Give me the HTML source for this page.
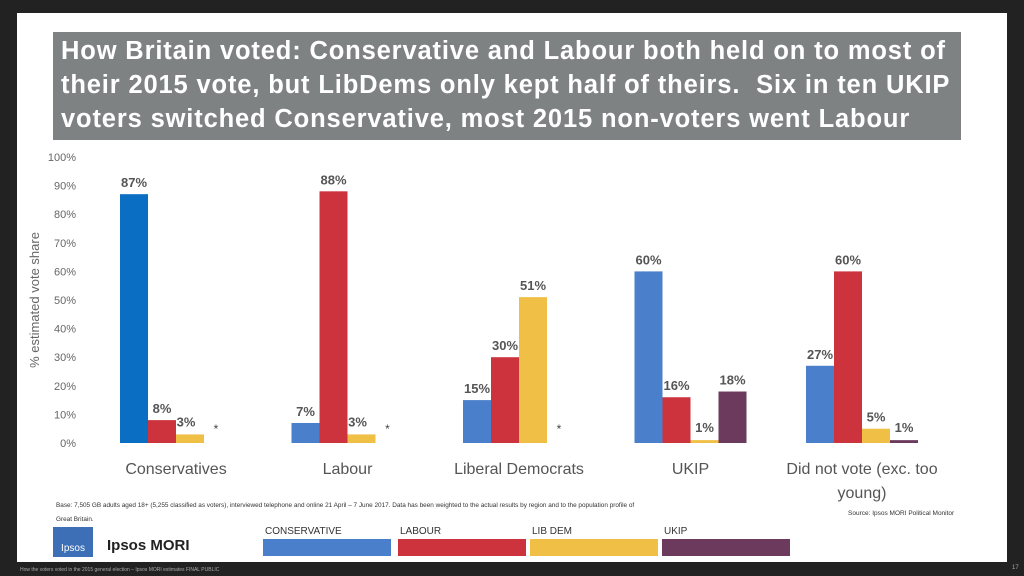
<!DOCTYPE html>
<html><head><meta charset="utf-8"><style>
body{margin:0;width:1024px;height:576px;background:#222;overflow:hidden;font-family:"Liberation Sans",sans-serif;position:relative}
.slide{position:absolute;left:17px;top:13px;width:990px;height:549px;background:#fff}
.title{position:absolute;left:53px;top:32px;width:908px;height:108px;background:#7f8283;color:#fff;font-weight:bold;font-size:25.5px;line-height:34px;padding:2px 0 0 8px;box-sizing:border-box;letter-spacing:0.85px;white-space:nowrap}
.abs{position:absolute}
</style></head><body>
<div class="slide"></div>
<div class="title">How Britain voted: Conservative and Labour both held on to most of<br>their 2015 vote, but LibDems only kept half of theirs.&nbsp; Six in ten UKIP<br>voters switched Conservative, most 2015 non-voters went Labour</div>
<svg class="abs" style="left:0;top:0" width="1024" height="576" id="chart"></svg>
<div class="abs" style="left:56px;top:499px;font-size:6.4px;color:#333;line-height:14px;width:595px">Base: 7,505 GB adults aged 18+ (5,255 classified as voters), interviewed telephone and online 21 April – 7 June 2017. Data has been weighted to the actual results by region and to the population profile of Great Britain.</div>
<div class="abs" style="left:848px;top:510px;font-size:6.5px;color:#333">Source: Ipsos MORI Political Monitor</div>
<div class="abs" style="left:53px;top:527px;width:40px;height:30px;background:#3d6fb6;color:#fff;font-size:10px;text-align:center;line-height:44px">Ipsos</div>
<div class="abs" style="left:107px;top:537px;font-size:15px;font-weight:bold;color:#222">Ipsos MORI</div>
<div class="abs" style="left:20px;top:567px;font-size:5px;color:#aaa">How the voters voted in the 2015 general election – Ipsos MORI estimates FINAL PUBLIC</div>
<div class="abs" style="left:1012px;top:565px;font-size:6px;color:#aaa">17</div>
<script>
const categories=["Conservatives","Labour","Liberal Democrats","UKIP","Did not vote (exc. too young)"];
const seriesNames=["CONSERVATIVE","LABOUR","LIB DEM","UKIP"];
const conservative=[87,7,15,60,27];
const labour=[8,88,30,16,60];
const libdem=[3,3,51,1,5];
const ukip=[null,null,null,18,1];
const ticks=[0,10,20,30,40,50,60,70,80,90,100];
const colors=["#4a7fcb","#cc333d","#f0bf45","#6b3a5c"];
const series=[conservative,labour,libdem,ukip];
const NS="http://www.w3.org/2000/svg";
const svg=document.getElementById('chart');
const y0=443,y1=157;
const yS=v=>y0-(v/100)*(y0-y1);
const xC=i=>176+i*171.5;
const bw=28;
function mk(t,a,txt){const e=document.createElementNS(NS,t);for(const k in a)e.setAttribute(k,a[k]);if(txt!=null)e.textContent=txt;svg.appendChild(e);return e;}
ticks.forEach(t=>{const e=mk('text',{x:76,y:yS(t)+4,'text-anchor':'end','font-size':11,fill:'#666','font-family':'Liberation Sans'},t+'%');

});
const yt=mk('text',{transform:'translate(39,300) rotate(-90)','text-anchor':'middle','font-size':13,fill:'#666','font-family':'Liberation Sans'},'% estimated vote share');


categories.forEach((c,i)=>{
 const lines=i==4?["Did not vote (exc. too","young)"]:[c];
 lines.forEach((l,j)=>{const e=mk('text',{x:xC(i),y:474+j*24,'text-anchor':'middle','font-size':16,fill:'#555','font-family':'Liberation Sans'},l);
 
 });
 series.forEach((s,k)=>{
  const x=xC(i)-56+k*bw;
  const v=s[i];
  if(v==null){const a=mk('text',{x:x+12,y:433,'text-anchor':'middle','font-size':12,fill:'#444','font-family':'Liberation Sans'},'*');
   
   return;}
  const col=(i==0&&k==0)?"#0a6fc2":colors[k];
  const r=mk('rect',{x:x,y:yS(v),width:bw,height:y0-yS(v),fill:col});
  
  
  let ly=yS(v)-7, lx=x+bw/2;
  if(v<5){lx=x+bw/2+(k==2&&i<3?-4:0);ly=yS(v)-8;}
  const t=mk('text',{x:lx,y:ly,'text-anchor':'middle','font-size':13,'font-weight':'bold',fill:'#555','font-family':'Liberation Sans'},v+'%');
  
  
 });
});
const lx=[263,398,530,662];
seriesNames.forEach((n,k)=>{
 const t=mk('text',{x:lx[k]+2,y:534,'font-size':10,fill:'#333','font-family':'Liberation Sans'},n);
 
 
 const r=mk('rect',{x:lx[k],y:539,width:128,height:17,fill:colors[k]});
 
 
});
</script>
</body></html>
